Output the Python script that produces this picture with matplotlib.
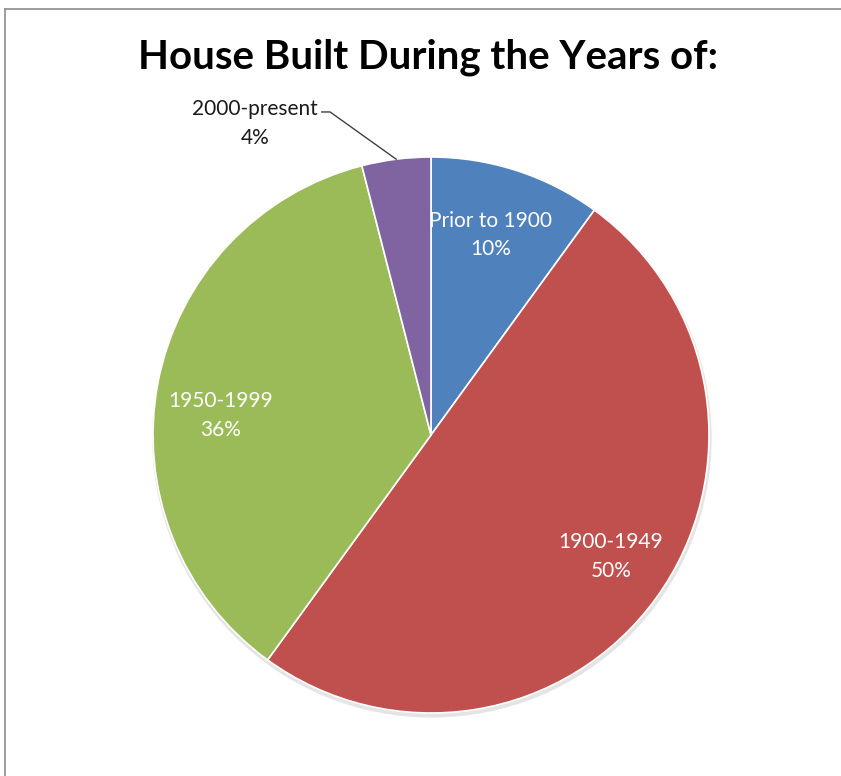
import matplotlib.pyplot as plt
from matplotlib.lines import Line2D
import numpy as np

# Share of houses by construction period
periods = ["Prior to 1900", "1900-1949", "1950-1999", "2000-present"]
shares = [10, 50, 36, 4]
colors = ["#4F81BD", "#C0504D", "#9BBB59", "#8064A2"]

W, H = 841, 776
fig = plt.figure(figsize=(W / 100, H / 100), dpi=100)
ax = fig.add_axes([0, 0, 1, 1])
ax.axis("off")

# soft drop shadow under the pie
ax.add_patch(plt.Circle((0.003, -0.01), 1.004, color="#e4e4e4", zorder=0))

wedges, _ = ax.pie(shares, colors=colors, startangle=90, counterclock=False,
                   radius=1.0, wedgeprops=dict(edgecolor="white", linewidth=1.2))

# label positions (radius fraction, angle offset in degrees from the wedge middle)
label_place = [(0.75, 1.5), (0.78, 2.0), (0.76, 5.5)]
for w, name, pct, (rf, da) in zip(wedges[:3], periods[:3], shares[:3], label_place):
    mid = np.deg2rad((w.theta1 + w.theta2) / 2 + da)
    ax.text(rf * np.cos(mid), rf * np.sin(mid), f"{name}\n{pct}%",
            ha="center", va="center", color="white", fontsize=15,
            family="Lato", linespacing=1.55)

# small slice gets an outside label with a leader line
w = wedges[3]
mid = np.deg2rad((w.theta1 + w.theta2) / 2)
edge = (np.cos(mid), np.sin(mid))
elbow = (-0.363, 1.162)
ax.plot([elbow[0] - 0.03, elbow[0], edge[0]], [elbow[1], elbow[1], edge[1]],
        color="#404040", linewidth=1.0, zorder=5)
ax.text(-0.633, 1.12, f"{periods[3]}\n{shares[3]}%", ha="center", va="center",
        color="#1a1a1a", fontsize=15, family="Lato", linespacing=1.55)

cx, cy, r = 431, 435, 278
ax.set_xlim(-cx / r, (W - cx) / r)
ax.set_ylim(-(H - cy) / r, cy / r)
ax.set_aspect("auto")

fig.text(428 / W, 1 - 57 / H, "House Built During the Years of:", ha="center",
         va="center", fontsize=29, fontweight="bold", family="Lato", color="black")

# chart area frame
fig.add_artist(Line2D([4.5 / W, 4.5 / W], [-0.01, 1 - 8.5 / H], color="#8c8c8c",
                      linewidth=1.2, transform=fig.transFigure))
fig.add_artist(Line2D([4.5 / W, 1.01], [1 - 8.5 / H, 1 - 8.5 / H], color="#8c8c8c",
                      linewidth=1.2, transform=fig.transFigure))

fig.savefig("out.png", dpi=100)
